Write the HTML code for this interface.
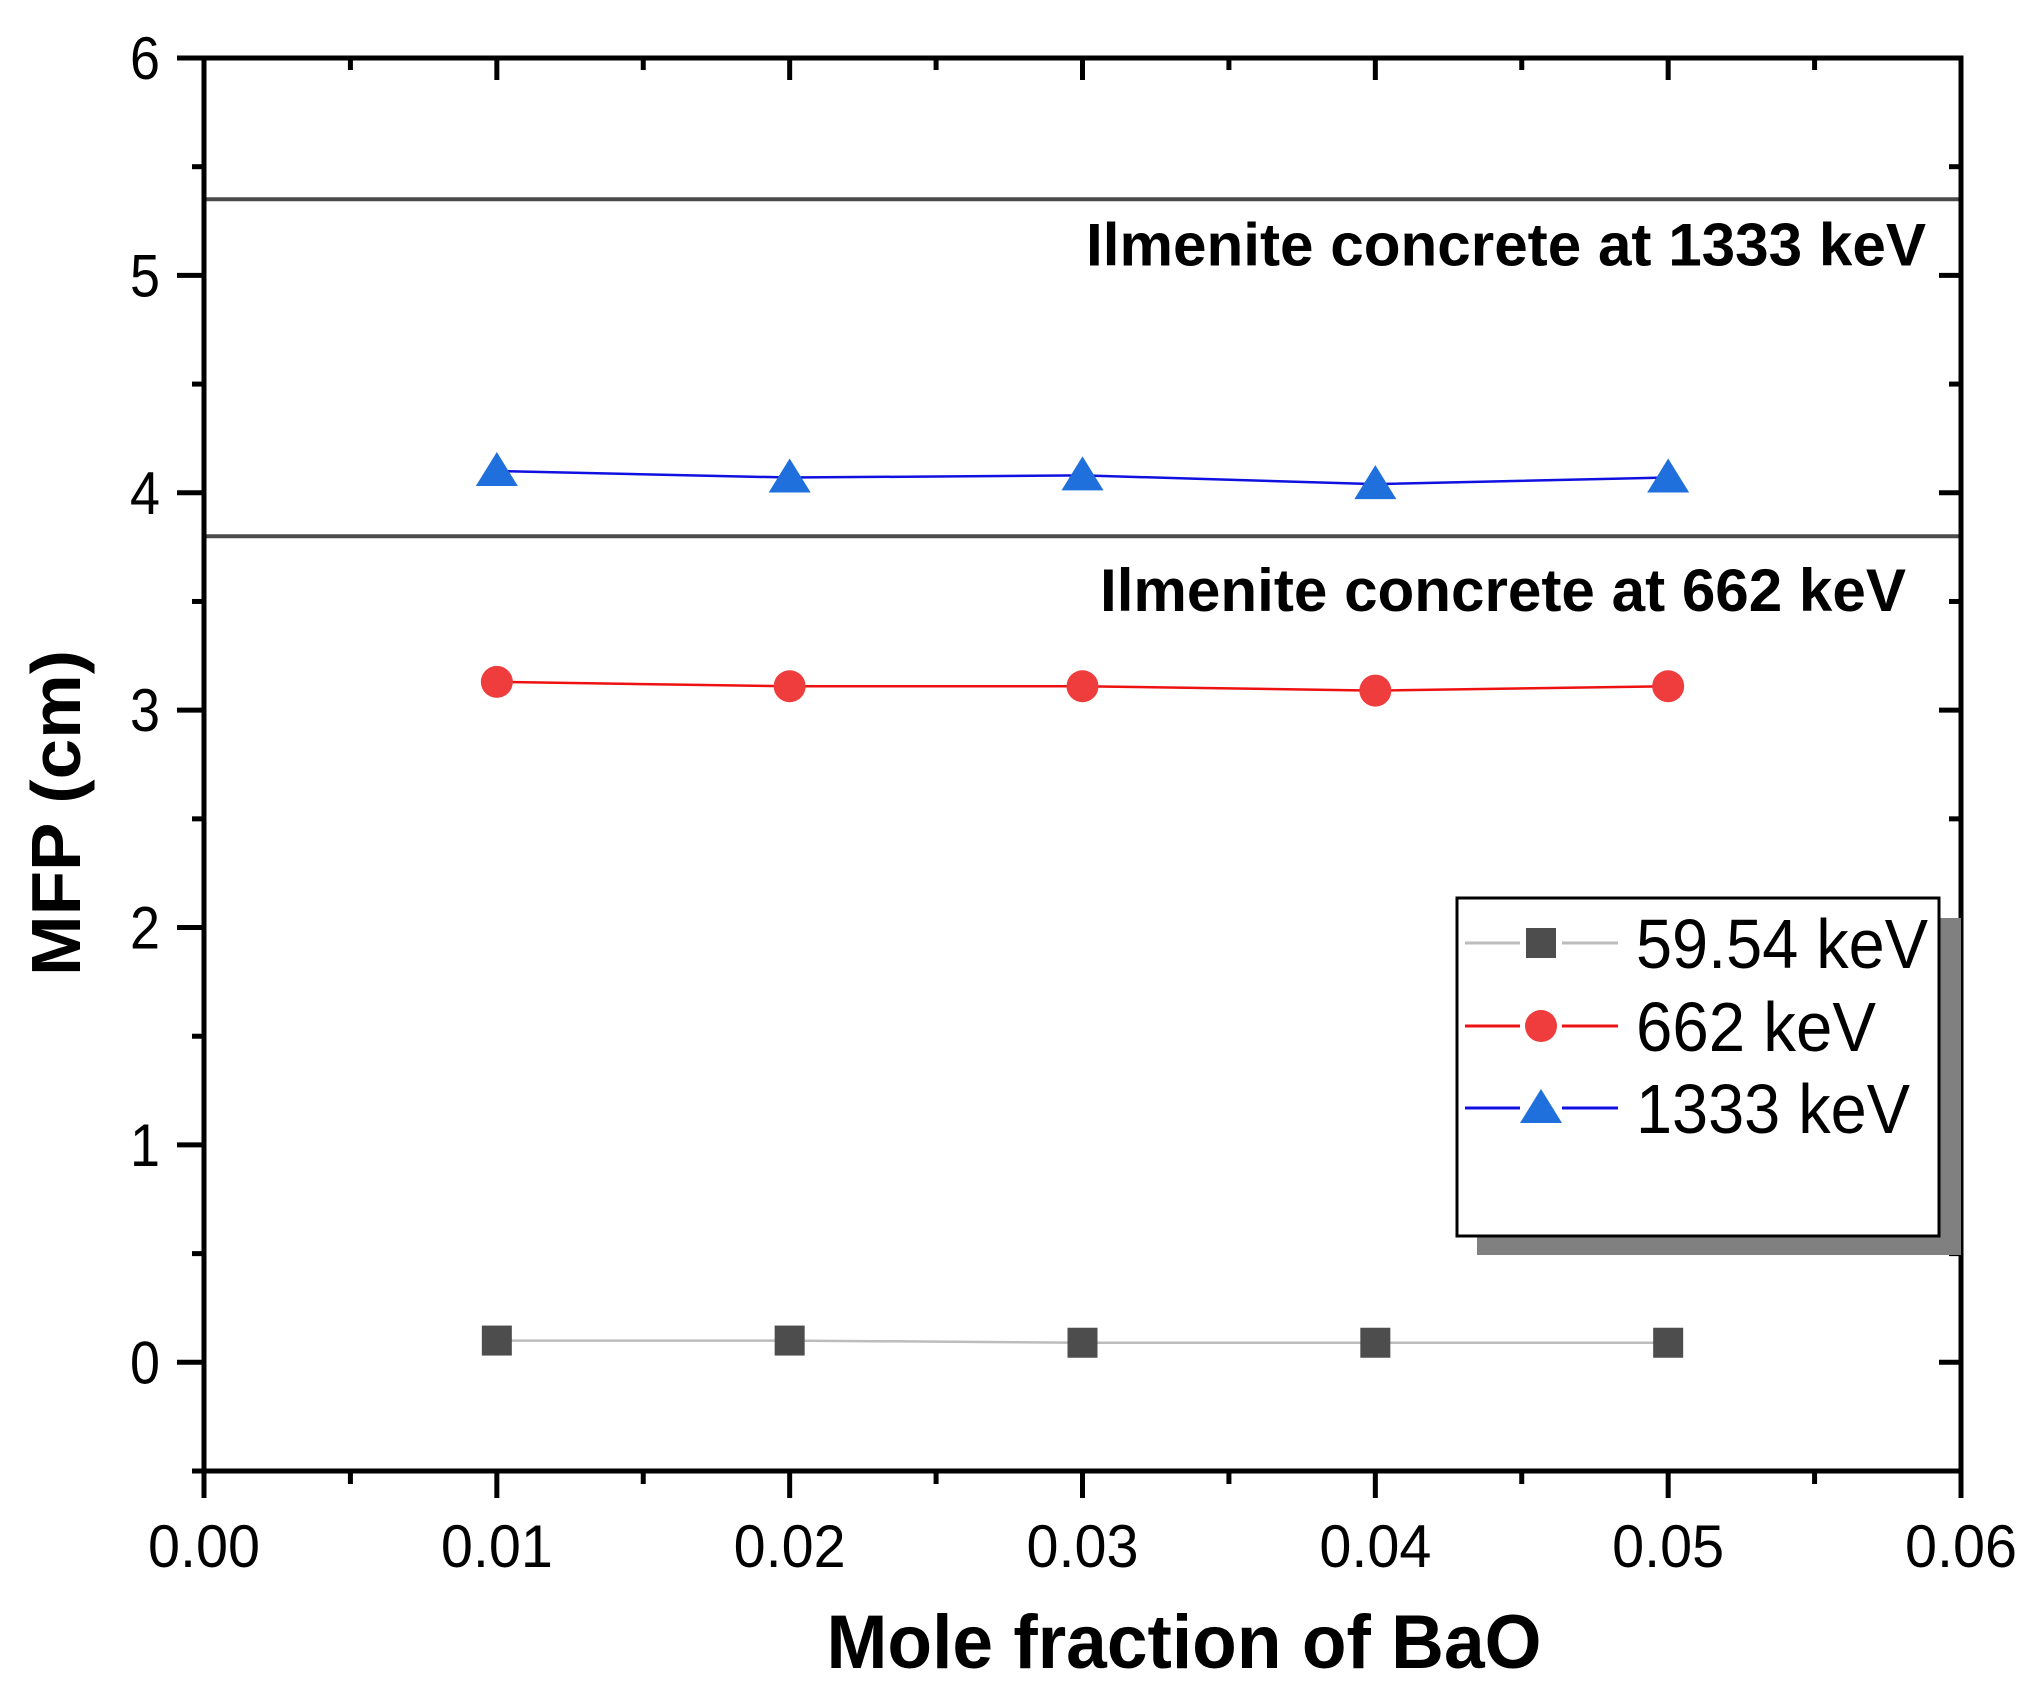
<!DOCTYPE html>
<html><head><meta charset="utf-8"><style>
html,body{margin:0;padding:0;background:#fff;}
svg{display:block;font-family:"Liberation Sans",Arial,sans-serif;}
</style></head><body>
<svg id="chart" width="2040" height="1696" viewBox="0 0 2040 1696" xmlns="http://www.w3.org/2000/svg">
<g id="refs"></g>
<g id="series"></g>
<g id="axes"></g>
<g id="legend"></g>
</svg>
<script>
const categories = [0.01, 0.02, 0.03, 0.04, 0.05];
const seriesNames = ["59.54 keV", "662 keV", "1333 keV"];
const values5954 = [0.10, 0.10, 0.09, 0.09, 0.09];
const values662 = [3.13, 3.11, 3.11, 3.09, 3.11];
const values1333 = [4.10, 4.07, 4.08, 4.04, 4.07];
const refValues = [5.35, 3.80];
const refLabels = ["Ilmenite concrete at 1333 keV", "Ilmenite concrete at 662 keV"];
const xTicks = [0, 0.01, 0.02, 0.03, 0.04, 0.05, 0.06];
const xTickLabels = ["0.00", "0.01", "0.02", "0.03", "0.04", "0.05", "0.06"];
const yTicks = [0, 1, 2, 3, 4, 5, 6];
const yTickLabels = ["0", "1", "2", "3", "4", "5", "6"];

const NS = "http://www.w3.org/2000/svg";
const L = 204, R = 1961, T = 58, B = 1471;
const xMin = 0, xMax = 0.06, yMin = -0.5, yMax = 6;
function xs(v){ return L + (v - xMin) / (xMax - xMin) * (R - L); }
function ys(v){ return B - (v - yMin) / (yMax - yMin) * (B - T); }
function mk(tag, attrs, parent){
  const e = document.createElementNS(NS, tag);
  for (const k in attrs) e.setAttribute(k, attrs[k]);
  parent.appendChild(e);
  return e;
}
const gRefs = document.getElementById('refs');
const gSeries = document.getElementById('series');
const gAxes = document.getElementById('axes');
const gLeg = document.getElementById('legend');

refValues.forEach((v, i) => {
  const ln = mk('line', {x1: L, x2: R, y1: ys(v), y2: ys(v), stroke: '#4a4a4a', 'stroke-width': 4}, gRefs);
  
  
});
const rl1 = mk('text', {x: 1926, y: ys(refValues[0]) + 66, 'text-anchor': 'end', 'font-size': 60, 'font-weight': 'bold', textLength: 840, lengthAdjust: 'spacingAndGlyphs'}, gRefs);
rl1.textContent = refLabels[0];


const rl2 = mk('text', {x: 1906, y: ys(refValues[1]) + 75, 'text-anchor': 'end', 'font-size': 60, 'font-weight': 'bold', textLength: 806, lengthAdjust: 'spacingAndGlyphs'}, gRefs);
rl2.textContent = refLabels[1];



function marker(type, cx, cy, color, parent){
  let m;
  if (type === 'square') m = mk('rect', {x: cx - 15, y: cy - 15, width: 30, height: 30, fill: color}, parent);
  else if (type === 'circle') m = mk('circle', {cx: cx, cy: cy, r: 16, fill: color}, parent);
  else m = mk('polygon', {points: (cx) + ',' + (cy - 19) + ' ' + (cx - 21) + ',' + (cy + 15) + ' ' + (cx + 21) + ',' + (cy + 15), fill: color}, parent);
  return m;
}
const seriesDefs = [
  {vals: values5954, line: '#bdbdbd', fill: '#4d4d4d', m: 'square', key: '5954'},
  {vals: values662, line: '#ee1111', fill: '#ef3c3c', m: 'circle', key: '662'},
  {vals: values1333, line: '#1010e0', fill: '#1f6fdc', m: 'triangle', key: '1333'}
];
seriesDefs.forEach(s => {
  const g = mk('g', {}, gSeries);
  
  
  const pts = categories.map((c, i) => xs(c) + ',' + ys(s.vals[i])).join(' ');
  const pl = mk('polyline', {points: pts, fill: 'none', stroke: s.line, 'stroke-width': 2.5}, g);
  
  
  categories.forEach((c, i) => {
    const m = marker(s.m, xs(c), ys(s.vals[i]), s.fill, g);
    
    
  });
});

const frame = mk('rect', {x: L, y: T, width: R - L, height: B - T, fill: 'none', stroke: '#000', 'stroke-width': 5}, gAxes);



for (let i = 0; i < 13; i++) {
  const v = i * 0.005, x = xs(v), major = i % 2 === 0;
  mk('line', {x1: x, x2: x, y1: B, y2: B + (major ? 27 : 13), stroke: '#000', 'stroke-width': 5}, gAxes);
  mk('line', {x1: x, x2: x, y1: T, y2: T + (major ? 22 : 12), stroke: '#000', 'stroke-width': 5}, gAxes);
}
xTicks.forEach((v, i) => {
  const t = mk('text', {x: xs(v), y: 1567, 'text-anchor': 'middle', 'font-size': 60, textLength: 112, lengthAdjust: 'spacingAndGlyphs'}, gAxes);
  t.textContent = xTickLabels[i];
  
  
});
for (let i = 0; i < 14; i++) {
  const v = -0.5 + i * 0.5, y = ys(v), major = Math.abs(v - Math.round(v)) < 1e-9;
  mk('line', {x1: L, x2: L - (major ? 27 : 12), y1: y, y2: y, stroke: '#000', 'stroke-width': 5}, gAxes);
  mk('line', {x1: R, x2: R - (major ? 22 : 12), y1: y, y2: y, stroke: '#000', 'stroke-width': 5}, gAxes);
}
yTicks.forEach((v, i) => {
  const t = mk('text', {x: 160, y: ys(v) + 21, 'text-anchor': 'end', 'font-size': 60, textLength: 30, lengthAdjust: 'spacingAndGlyphs'}, gAxes);
  t.textContent = yTickLabels[i];
  
  
});
const xt = mk('text', {x: 1184, y: 1668, 'text-anchor': 'middle', 'font-size': 76, 'font-weight': 'bold', textLength: 715, lengthAdjust: 'spacingAndGlyphs'}, gAxes);
xt.textContent = 'Mole fraction of BaO';


const yt = mk('text', {x: 0, y: 0, 'text-anchor': 'middle', 'font-size': 70, 'font-weight': 'bold', transform: 'translate(80,813) rotate(-90)', textLength: 326, lengthAdjust: 'spacingAndGlyphs'}, gAxes);
yt.textContent = 'MFP (cm)';



const shadow = mk('rect', {x: 1477, y: 918, width: 484, height: 337, fill: '#808080'}, gLeg);


const box = mk('rect', {x: 1457, y: 898, width: 482, height: 338, fill: '#fff', stroke: '#000', 'stroke-width': 3}, gLeg);


const rowY = [943, 1026, 1108];
const legW = [292, 240, 274];
seriesDefs.forEach((s, i) => {
  const g = mk('g', {}, gLeg);
  
  
  mk('line', {x1: 1465, x2: 1520, y1: rowY[i], y2: rowY[i], stroke: s.line, 'stroke-width': 3}, g);
  mk('line', {x1: 1562, x2: 1618, y1: rowY[i], y2: rowY[i], stroke: s.line, 'stroke-width': 3}, g);
  marker(s.m, 1541, rowY[i], s.fill, g);
  const t = mk('text', {x: 1636, y: rowY[i] + 25, 'font-size': 70, textLength: legW[i], lengthAdjust: 'spacingAndGlyphs'}, g);
  t.textContent = seriesNames[i];
});
</script>
</body></html>
